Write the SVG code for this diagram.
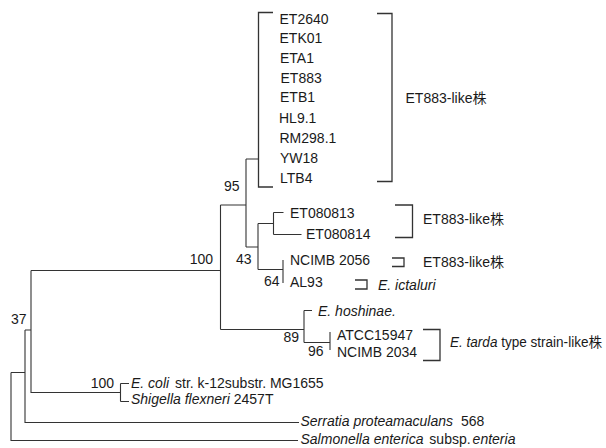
<svg xmlns="http://www.w3.org/2000/svg" width="606" height="448" viewBox="0 0 606 448">
<style>
text{font-family:"Liberation Sans",Arial,"Noto Sans CJK JP",sans-serif;font-size:14px;fill:#1a1a1a}
.i{font-style:italic}
.e{text-anchor:end}
.ln{fill:none;stroke:#333;stroke-width:1.1}
.br{fill:none;stroke:#333;stroke-width:1.3}
</style>
<rect width="606" height="448" fill="#fff"/>
<g id="connectors">
<path class="ln" d="M11,372.5V440.5H298M11,372.5H25M25,330V422.5H299M25,330H31M31,270.5V392.5H120.5M120.5,383.5V401.5M120.5,383.5H129M120.5,401.5H129M31,270.5H220.5M220.5,205V329.5M220.5,205H246M246,159V247M246,159H258.5M246,247H258M258,223.5V269.5M258,223.5H273.5M273.5,212.5V234.5M273.5,212.5H283.5M273.5,234.5H301.5M258,269.5H283M283,260V283M220.5,329.5H304M304,310.5V342.5M304,310.5H312M304,342.5H330M330,332V350"/>
<path class="br" d="M273,12.5H258.5V187H273"/>
</g>
<g id="brackets">
<path class="br" d="M377,13.5H392V181.5H377"/>
<path class="br" d="M395,205H412.5V237.5H395"/>
<path class="br" d="M392,258H404V266.5H392"/>
<path class="br" d="M355,280H367V289H355"/>
<path class="br" d="M423,329.5H440V360.5H423"/>
</g>
<g id="leaf-ET2640"><text x="279.5" y="24">ET2640</text></g>
<g id="leaf-ETK01"><text x="279.5" y="42.5">ETK01</text></g>
<g id="leaf-ETA1"><text x="280" y="63">ETA1</text></g>
<g id="leaf-ET883"><text x="280.5" y="83">ET883</text></g>
<g id="leaf-ETB1"><text x="280" y="102">ETB1</text></g>
<g id="leaf-HL9.1"><text x="279" y="122.5">HL9.1</text></g>
<g id="leaf-RM298.1"><text x="279.5" y="142.5">RM298.1</text></g>
<g id="leaf-YW18"><text x="280" y="163">YW18</text></g>
<g id="leaf-LTB4"><text x="280" y="182.5">LTB4</text></g>
<g id="group-ET883-like-1"><text x="405.5" y="103">ET883-like株</text></g>
<g id="leaf-ET080813"><text x="290" y="217.5">ET080813</text></g>
<g id="leaf-ET080814"><text x="306" y="238.5">ET080814</text></g>
<g id="group-ET883-like-2"><text x="423" y="223.5">ET883-like株</text></g>
<g id="leaf-NCIMB2056"><text x="290" y="264.5">NCIMB 2056</text></g>
<g id="group-ET883-like-3"><text x="423" y="266.5">ET883-like株</text></g>
<g id="leaf-AL93"><text x="290" y="286.5">AL93</text></g>
<g id="group-ictaluri"><text x="378" y="290" class="i">E. ictaluri</text></g>
<g id="leaf-hoshinae"><text x="318" y="315.5" class="i">E. hoshinae.</text></g>
<g id="leaf-ATCC15947"><text x="337" y="339.5">ATCC15947</text></g>
<g id="leaf-NCIMB2034"><text x="337" y="357">NCIMB 2034</text></g>
<g id="group-tarda"><text x="450" y="347" textLength="152" lengthAdjust="spacingAndGlyphs"><tspan class="i">E. tarda</tspan> type strain-like株</text></g>
<g id="leaf-ecoli"><text x="131" y="387.5"><tspan class="i">E. coli</tspan><tspan dx="2"> str. k-12substr. MG1655</tspan></text></g>
<g id="leaf-shigella"><text x="131" y="404"><tspan class="i">Shigella flexneri</tspan> 2457T</text></g>
<g id="leaf-serratia"><text x="300.5" y="425.5"><tspan class="i">Serratia proteamaculans</tspan><tspan dx="4"> 568</tspan></text></g>
<g id="leaf-salmonella"><text x="300.5" y="443.5"><tspan class="i">Salmonella enterica</tspan><tspan dx="2"> subsp.</tspan><tspan class="i" dx="2">enteria</tspan></text></g>
<g id="bootstrap-95"><text x="224" y="190.5">95</text></g>
<g id="bootstrap-100a"><text x="213" y="263.5" class="e">100</text></g>
<g id="bootstrap-43"><text x="236" y="264">43</text></g>
<g id="bootstrap-64"><text x="264" y="285.5">64</text></g>
<g id="bootstrap-89"><text x="283.5" y="342">89</text></g>
<g id="bootstrap-96"><text x="308" y="355.5">96</text></g>
<g id="bootstrap-37"><text x="11" y="323.5">37</text></g>
<g id="bootstrap-100b"><text x="114" y="387.5" class="e">100</text></g>
</svg>
